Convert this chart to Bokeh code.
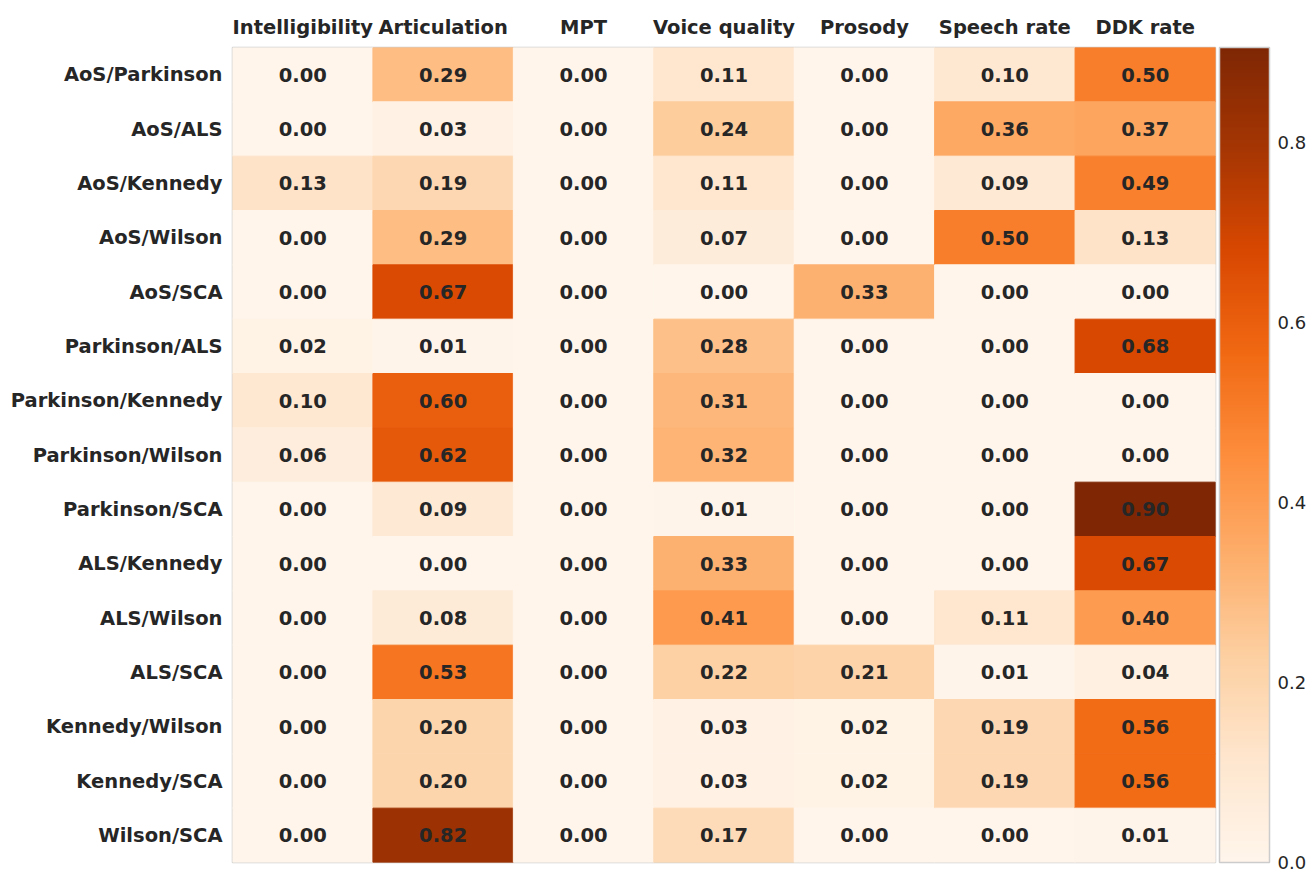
from bokeh.plotting import figure
from bokeh.models import (LinearColorMapper, ColorBar, FixedTicker, FactorRange,
                          ColumnDataSource, PrintfTickFormatter)
from bokeh.palettes import Oranges256
from bokeh.transform import transform
from bokeh.embed import file_html
from bokeh.resources import INLINE
from bokeh.core.properties import value

features = ["Intelligibility", "Articulation", "MPT", "Voice quality",
            "Prosody", "Speech rate", "DDK rate"]
pairs = ["AoS/Parkinson", "AoS/ALS", "AoS/Kennedy", "AoS/Wilson", "AoS/SCA",
         "Parkinson/ALS", "Parkinson/Kennedy", "Parkinson/Wilson", "Parkinson/SCA",
         "ALS/Kennedy", "ALS/Wilson", "ALS/SCA", "Kennedy/Wilson", "Kennedy/SCA",
         "Wilson/SCA"]

intelligibility = [0.00, 0.00, 0.13, 0.00, 0.00, 0.02, 0.10, 0.06, 0.00, 0.00, 0.00, 0.00, 0.00, 0.00, 0.00]
articulation    = [0.29, 0.03, 0.19, 0.29, 0.67, 0.01, 0.60, 0.62, 0.09, 0.00, 0.08, 0.53, 0.20, 0.20, 0.82]
mpt             = [0.00, 0.00, 0.00, 0.00, 0.00, 0.00, 0.00, 0.00, 0.00, 0.00, 0.00, 0.00, 0.00, 0.00, 0.00]
voice_quality   = [0.11, 0.24, 0.11, 0.07, 0.00, 0.28, 0.31, 0.32, 0.01, 0.33, 0.41, 0.22, 0.03, 0.03, 0.17]
prosody         = [0.00, 0.00, 0.00, 0.00, 0.33, 0.00, 0.00, 0.00, 0.00, 0.00, 0.00, 0.21, 0.02, 0.02, 0.00]
speech_rate     = [0.10, 0.36, 0.09, 0.50, 0.00, 0.00, 0.00, 0.00, 0.00, 0.00, 0.11, 0.01, 0.19, 0.19, 0.00]
ddk_rate        = [0.50, 0.37, 0.49, 0.13, 0.00, 0.68, 0.00, 0.00, 0.904, 0.67, 0.40, 0.04, 0.56, 0.56, 0.01]

cbar_ticks = [0.0, 0.2, 0.4, 0.6, 0.8]
vmax = 0.905

columns = [intelligibility, articulation, mpt, voice_quality, prosody, speech_rate, ddk_rate]
xs, ys, vs, labels = [], [], [], []
for f, col in zip(features, columns):
    for r, v in zip(pairs, col):
        xs.append(f)
        ys.append(r)
        vs.append(v)
        labels.append("%.2f" % v)
src = ColumnDataSource(dict(x=xs, y=ys, v=vs, label=labels))

mapper = LinearColorMapper(palette=list(reversed(Oranges256)), low=0.0, high=vmax)

TXT = "#262626"
FONT = "DejaVu Sans"

p = figure(width=1311, height=872,
           x_range=FactorRange(*features), y_range=FactorRange(*reversed(pairs)),
           x_axis_location="above", output_backend="svg", toolbar_location=None,
           min_border_left=232, min_border_top=47, min_border_bottom=10,
           min_border_right=96)

p.rect(x="x", y="y", width=1, height=1, source=src,
       fill_color=transform("v", mapper), line_color=transform("v", mapper), line_width=1)
p.text(x="x", y="y", text="label", source=src, text_font=value(FONT),
       text_font_style="bold", text_font_size="19.5px", text_color=TXT,
       text_align="center", text_baseline="middle")

p.outline_line_color = "#cccccc"
p.outline_line_width = 1.5
p.grid.grid_line_color = None
for ax in (p.xaxis, p.yaxis):
    ax.axis_line_color = None
    ax.major_tick_line_color = None
    ax.minor_tick_line_color = None
    ax.major_tick_out = 0
    ax.major_tick_in = 0
    ax.major_label_text_font = FONT
    ax.major_label_text_font_style = "bold"
    ax.major_label_text_font_size = "19.5px"
    ax.major_label_text_color = TXT
p.xaxis.major_label_standoff = 9
p.yaxis.major_label_standoff = 10

cb = ColorBar(color_mapper=mapper, ticker=FixedTicker(ticks=cbar_ticks),
              formatter=PrintfTickFormatter(format="%.1f"),
              width=50, height=815, padding=0, margin=0, location=(4, 0),
              label_standoff=8, major_tick_line_color=None, minor_tick_line_color=None,
              bar_line_color="#cccccc", bar_line_width=1.5,
              border_line_color=None, background_fill_color=None,
              major_label_text_font=FONT, major_label_text_font_size="18px",
              major_label_text_color=TXT)
p.add_layout(cb, "right")

open("out.html", "w").write(file_html(p, INLINE))
